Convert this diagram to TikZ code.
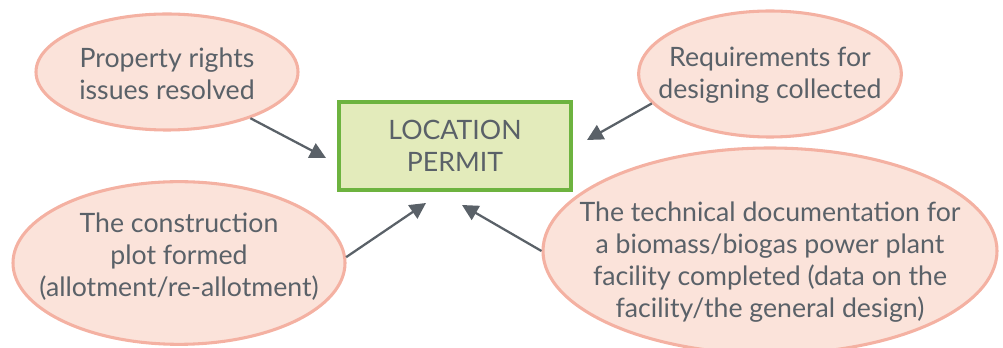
\documentclass[tikz,border=0pt]{standalone}
\usepackage{fontspec}
\setmainfont{Lato}
\usetikzlibrary{shapes.geometric,arrows.meta}
\definecolor{txtgray}{HTML}{5A6168}
\definecolor{ellfill}{HTML}{FBE3DA}
\definecolor{elldraw}{HTML}{F4B1A2}
\definecolor{boxfill}{HTML}{E3EBBB}
\definecolor{boxdraw}{HTML}{6DB33F}
\tikzset{
  goal/.style={ellipse, draw=elldraw, fill=ellfill, line width=2.3pt, inner sep=0pt},
  goaltext/.style={inner sep=0pt, align=center, text=txtgray, font=\fontsize{20}{24}\selectfont},
  permit/.style={rectangle, draw=boxdraw, fill=boxfill, line width=2.6pt, inner sep=0pt,
    align=center, text=txtgray, font=\fontsize{20}{23.5}\selectfont,
    minimum width=174pt, minimum height=66pt},
  feed/.style={draw=txtgray, line width=1.7pt, -{Triangle[length=12pt,width=12pt]}}
}
\begin{document}
\begin{tikzpicture}[x=0.75pt,y=-0.75pt]
\useasboundingbox (0,0) rectangle (1003,348);
\node[permit] (box) at (455,146) {LOCATION\\PERMIT};
\node[goal, minimum width=196.5pt, minimum height=87pt] (e1) at (167,72) {};
\node[goaltext] (e1t) at (167,74) {Property rights\\issues resolved};
\node[goal, minimum width=197pt, minimum height=94.5pt] (e2) at (770,74) {};
\node[goaltext] (e2t) at (770,75) {Requirements for\\designing collected};
\node[goal, minimum width=340.5pt, minimum height=154.5pt] (e3) at (770,251) {};
\node[goaltext] (e3t) at (770,262) {The technical documentation for\\a biomass/biogas power plant\\facility completed (data on the\\facility/the general design)};
\node[goal, minimum width=249pt, minimum height=122pt] (e4) at (179,263) {};
\node[goaltext] (e4t) at (179,257) {The construction\\plot formed\\(allotment/re-allotment)};
\coordinate (t1) at (326,158);
\coordinate (t2) at (587,140);
\coordinate (t3) at (426,203);
\coordinate (t4) at (462,205);
\draw[feed] (e1.-29) -- (t1);
\draw[feed] (e2.194) -- (t2);
\draw[feed] (e4.2) -- (t3);
\draw[feed] (e3.180) -- (t4);
\end{tikzpicture}
\end{document}
